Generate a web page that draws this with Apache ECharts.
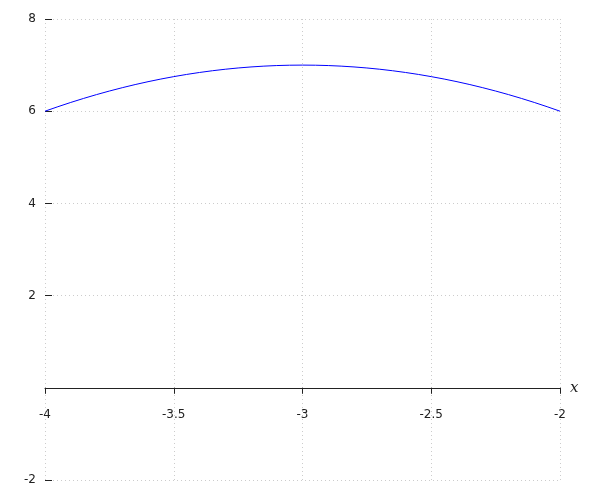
<!DOCTYPE html>
<html>
<head>
<meta charset="utf-8">
<script src="https://cdn.jsdelivr.net/npm/echarts@6/dist/echarts.min.js"></script>
<style>html,body{margin:0;padding:0;background:#fff;}#c{width:600px;height:500px;}</style>
</head>
<body>
<div id="c"></div>
<script>
const xValues = [-4,-3.95,-3.9,-3.85,-3.8,-3.75,-3.7,-3.65,-3.6,-3.55,-3.5,-3.45,-3.4,-3.35,-3.3,-3.25,-3.2,-3.15,-3.1,-3.05,-3,
  -2.95,-2.9,-2.85,-2.8,-2.75,-2.7,-2.65,-2.6,-2.55,-2.5,-2.45,-2.4,-2.35,-2.3,-2.25,-2.2,-2.15,-2.1,-2.05,-2];
const yValues = [6,6.0975,6.19,6.2775,6.36,6.4375,6.51,6.5775,6.64,6.6975,6.75,6.7975,6.84,6.8775,6.91,6.9375,6.96,6.9775,6.99,6.9975,7,
  6.9975,6.99,6.9775,6.96,6.9375,6.91,6.8775,6.84,6.7975,6.75,6.6975,6.64,6.5775,6.51,6.4375,6.36,6.2775,6.19,6.0975,6];
const xTicks = [-4,-3.5,-3,-2.5,-2];
const yTicks = [-2,2,4,6,8];
const axisName = 'x';

const Y_MIN = -2, Y_MAX = 8;
const GRID = {left:45, right:40, top:19, bottom:20};
const plotH = 500 - GRID.top - GRID.bottom;
const zeroOffset = -plotH * (0 - Y_MIN) / (Y_MAX - Y_MIN);

const chart = echarts.init(document.getElementById('c'));
const labelFont = {color:'#222', fontSize:12, fontFamily:'DejaVu Sans'};
chart.setOption({
  animation:false,
  grid:Object.assign({outerBoundsMode:'none', containLabel:false}, GRID),
  xAxis:[{
    type:'value', min:-4, max:-2, interval:0.5,
    position:'bottom', offset:zeroOffset,
    name:axisName, nameLocation:'end', nameGap:10,
    nameTextStyle:{fontFamily:'DejaVu Serif', fontStyle:'italic', fontSize:15, color:'#222', verticalAlign:'middle'},
    axisLine:{onZero:false, lineStyle:{color:'#222', width:1}},
    axisTick:{show:true, length:6, lineStyle:{color:'#222'}},
    axisLabel:Object.assign({margin:21, formatter:v=>xTicks.includes(v)?String(v):''}, labelFont),
    splitLine:{show:true, lineStyle:{color:'#cccccc', type:[1,3], width:1}}
  }],
  yAxis:{
    type:'value', min:Y_MIN, max:Y_MAX, interval:2,
    axisLine:{show:false},
    axisTick:{show:true, inside:true, length:7, lineStyle:{color:'#222'}},
    axisLabel:Object.assign({margin:9, formatter:v=>yTicks.includes(v)?String(v):''}, labelFont),
    splitLine:{show:true, lineStyle:{color:'#cccccc', type:[1,3], width:1}}
  },
  series:[{
    type:'line',
    data:xValues.map((x,i)=>[x,yValues[i]]),
    showSymbol:false, symbol:'none',
    lineStyle:{color:'#0000ff', width:1}
  }]
});
</script>
</body>
</html>
